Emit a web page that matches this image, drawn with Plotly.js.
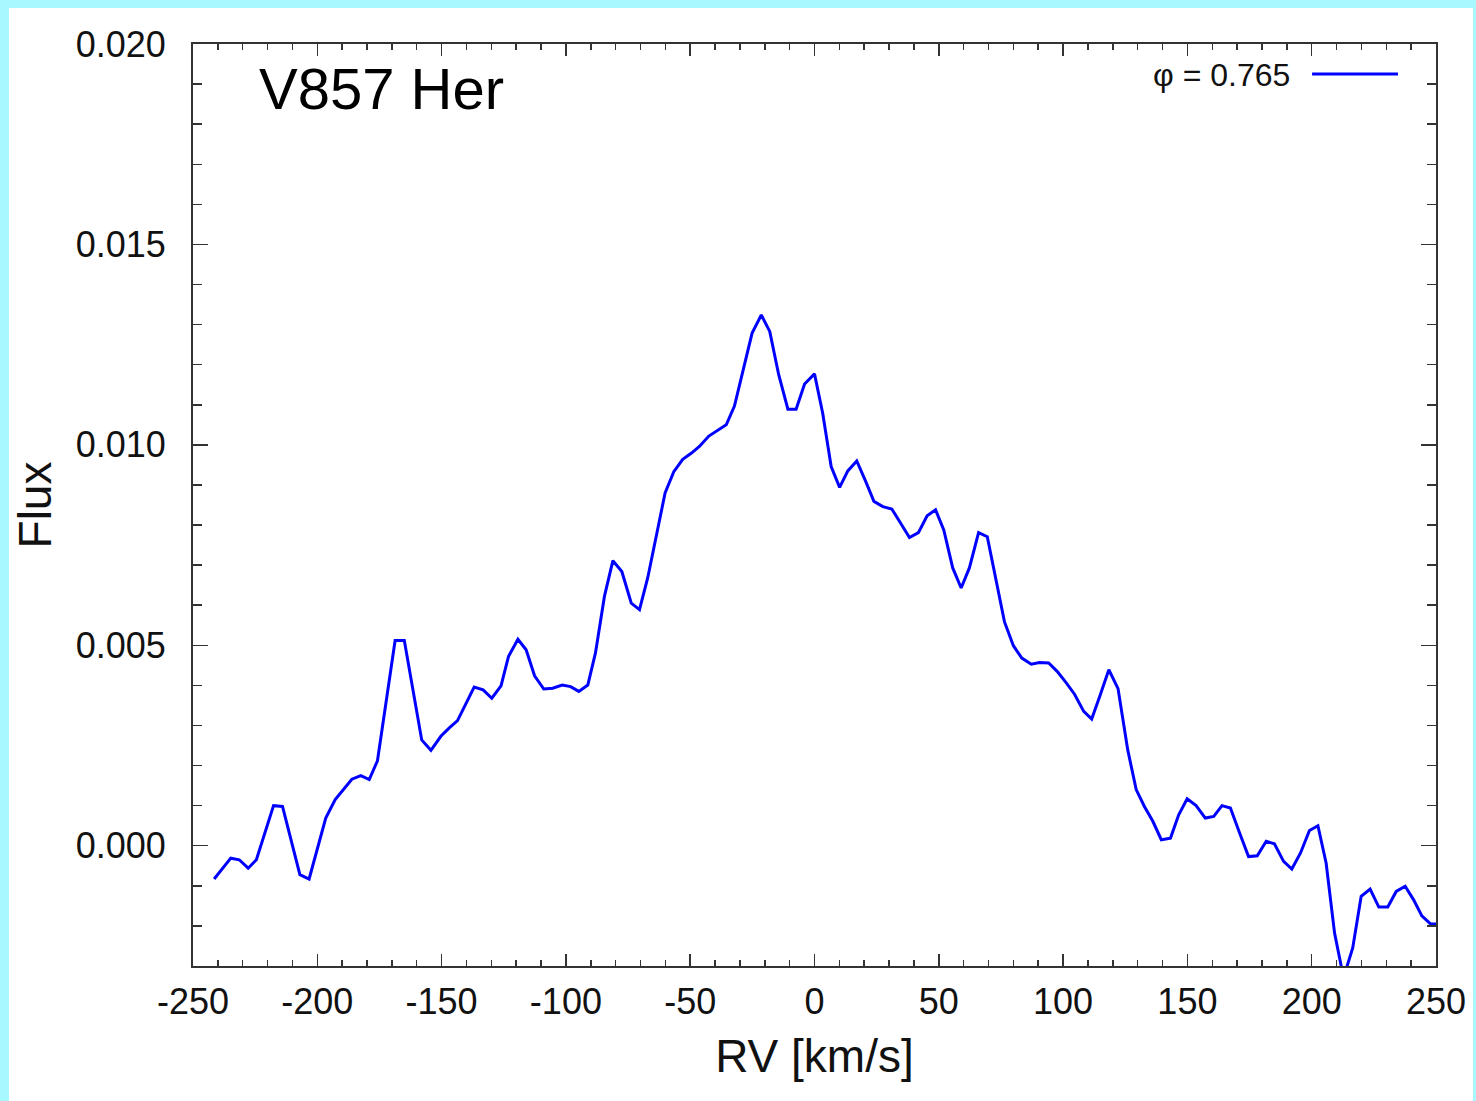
<!DOCTYPE html>
<html>
<head>
<meta charset="utf-8">
<script src="https://cdn.plot.ly/plotly-3.0.1.min.js"></script>
<style>
  html, body { margin: 0; padding: 0; background: #a8f8ff; width: 1476px; height: 1101px; overflow: hidden; }
  #chart { position: absolute; left: 9px; top: 8px; width: 1464px; height: 1093px; background: #ffffff; }
</style>
</head>
<body>
<div id="chart"></div>
<script>
// Radial velocity [km/s]
const rv = [
  -241.5, -234.8, -231.4, -227.8, -224.5, -217.6, -214.0, -207.0, -203.3, -196.6,
  -192.8, -186.1, -182.5, -179.1, -175.8, -168.7, -165.0, -158.0, -154.3, -150.3,
  -146.9, -143.6, -136.9, -133.3, -129.8, -126.1, -123.1, -119.3, -116.0, -112.6,
  -108.9, -105.3, -101.5, -98.1, -94.8, -91.2, -88.1, -84.5, -81.1, -77.5,
  -73.7, -70.4, -67.1, -63.3, -60.1, -56.6, -53.0, -49.6, -46.3, -42.5,
  -39.1, -35.5, -32.2, -28.4, -25.1, -21.4, -18.0, -14.4, -10.7, -7.4,
  -4.0, 0.0, 3.3, 6.7, 10.1, 13.4, 17.0, 20.5, 23.9, 27.5,
  31.1, 34.6, 38.2, 41.8, 45.3, 48.7, 52.0, 55.6, 59.0, 62.3,
  66.0, 69.5, 73.1, 76.4, 80.0, 83.4, 87.2, 90.5, 94.2, 97.6,
  101.2, 104.6, 108.3, 111.5, 115.0, 118.4, 122.1, 126.0, 129.4, 132.7,
  136.1, 139.5, 143.2, 146.5, 149.9, 153.5, 157.2, 160.6, 163.9, 167.3,
  171.0, 174.6, 178.1, 181.7, 185.0, 188.7, 192.0, 195.5, 199.1, 202.5,
  205.8, 209.2, 212.8, 216.5, 219.9, 223.5, 227.0, 230.6, 234.0, 237.6,
  241.0, 244.3, 247.8, 250.0
];
// Flux at phase 0.765
const flux = [
  -0.00083, -0.00031, -0.00035, -0.00056, -0.00035, 0.00100, 0.00098, -0.00072, -0.00083, 0.00069,
  0.00115, 0.00166, 0.00175, 0.00165, 0.00212, 0.00512, 0.00512, 0.00264, 0.00238, 0.00273,
  0.00294, 0.00312, 0.00396, 0.00389, 0.00368, 0.00399, 0.00472, 0.00515, 0.00489, 0.00424,
  0.00391, 0.00393, 0.00401, 0.00397, 0.00385, 0.00401, 0.00481, 0.00622, 0.00711, 0.00684,
  0.00605, 0.00589, 0.00668, 0.00788, 0.00880, 0.00933, 0.00964, 0.00979, 0.00996, 0.01022,
  0.01035, 0.01050, 0.01097, 0.01191, 0.01279, 0.01324, 0.01283, 0.01175, 0.01089, 0.01089,
  0.01152, 0.01177, 0.01079, 0.00946, 0.00894, 0.00935, 0.00960, 0.00910, 0.00859, 0.00846,
  0.00840, 0.00805, 0.00769, 0.00781, 0.00823, 0.00838, 0.00788, 0.00693, 0.00643, 0.00693,
  0.00781, 0.00771, 0.00663, 0.00559, 0.00499, 0.00468, 0.00453, 0.00457, 0.00456, 0.00435,
  0.00407, 0.00378, 0.00335, 0.00316, 0.00377, 0.00439, 0.00392, 0.00239, 0.00140, 0.00098,
  0.00061, 0.00015, 0.00019, 0.00077, 0.00117, 0.00100, 0.00069, 0.00073, 0.00100, 0.00094,
  0.00032, -0.00027, -0.00025, 0.00011, 0.00005, -0.00039, -0.00058, -0.00018, 0.00038, 0.00050,
  -0.00043, -0.00218, -0.00329, -0.00255, -0.00126, -0.00108, -0.00153, -0.00153, -0.00114, -0.00101,
  -0.00135, -0.00175, -0.00195, -0.00195
];
const xTickVals = [-250, -200, -150, -100, -50, 0, 50, 100, 150, 200, 250];
const yTickVals = [0.000, 0.005, 0.010, 0.015, 0.020];
const yTickText = ['0.000', '0.005', '0.010', '0.015', '0.020'];
const objectName = 'V857 Her';
const phaseLabel = 'φ = 0.765';

const FONT = 'Liberation Sans, Arial, Helvetica, sans-serif';
const AX = '#333333';

const trace = {
  x: rv, y: flux, type: 'scatter', mode: 'lines',
  line: { color: '#0000ff', width: 3 },
  showlegend: false, hoverinfo: 'skip'
};

const layout = {
  width: 1464, height: 1093,
  margin: { l: 184, r: 37, t: 36, b: 135, pad: 0 },
  paper_bgcolor: '#ffffff', plot_bgcolor: '#ffffff',
  font: { family: FONT, color: '#000000', size: 36 },
  showlegend: false,
  xaxis: {
    range: [-250, 250], tickvals: xTickVals, ticktext: xTickVals.map(String),
    ticks: 'inside', ticklen: 12, tickwidth: 1.5, tickcolor: AX,
    minor: { dtick: 10, tick0: 0, ticks: 'inside', ticklen: 6, tickwidth: 1.5, tickcolor: AX, showgrid: false },
    showline: true, linecolor: AX, linewidth: 2, mirror: 'allticks',
    showgrid: false, zeroline: false,
    tickfont: { family: FONT, size: 36, color: '#111' },
    ticklabelstandoff: 3,
    title: { text: 'RV [km/s]', font: { family: FONT, size: 46, color: '#111' }, standoff: 19 }
  },
  yaxis: {
    range: [-0.003, 0.020], tickvals: yTickVals, ticktext: yTickText,
    ticks: 'inside', ticklen: 15, tickwidth: 1.5, tickcolor: AX,
    minor: { dtick: 0.001, tick0: 0, ticks: 'inside', ticklen: 9, tickwidth: 1.5, tickcolor: AX, showgrid: false },
    showline: true, linecolor: AX, linewidth: 2, mirror: 'allticks',
    showgrid: false, zeroline: false,
    tickfont: { family: FONT, size: 36, color: '#111' },
    ticklabelstandoff: 18,
    title: { text: 'Flux', font: { family: FONT, size: 46, color: '#111' }, standoff: 20 }
  },
  annotations: [
    { text: objectName, xref: 'paper', yref: 'paper', x: 0.0515, y: 0.952,
      xanchor: 'left', yanchor: 'middle', showarrow: false,
      font: { family: FONT, size: 58, color: '#000' } },
    { text: phaseLabel, xref: 'paper', yref: 'paper', x: 0.884, y: 0.9665,
      xanchor: 'right', yanchor: 'middle', showarrow: false,
      font: { family: FONT, size: 32, color: '#111' } }
  ],
  shapes: [
    { type: 'line', xref: 'paper', yref: 'paper', x0: 0.9003, x1: 0.9694, y0: 0.9675, y1: 0.9675,
      line: { color: '#0000ff', width: 3 } }
  ]
};

Plotly.newPlot('chart', [trace], layout, { staticPlot: true, displayModeBar: false });
</script>
</body>
</html>
